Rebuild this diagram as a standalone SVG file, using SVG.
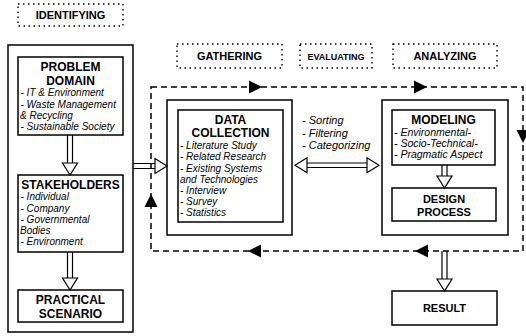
<svg xmlns="http://www.w3.org/2000/svg" xmlns:xlink="http://www.w3.org/1999/xlink" width="526" height="336" viewBox="0 0 526 336">
  <style>
    .box { fill: #fff; stroke: #000; stroke-width: 1.5; }
    .stage { fill: none; stroke: #000; stroke-width: 1.4; stroke-dasharray: 1.5 3.5; }
    .loop { fill: none; stroke: #000; stroke-width: 1.5; stroke-dasharray: 6 4; }
    .shaft { fill: none; stroke: #000; stroke-width: 1.2; }
    .hollow { fill: #fff; stroke: #000; stroke-width: 1.2; stroke-linejoin: miter; }
    .solid { fill: #000; stroke: none; }
    text { font-family: "Liberation Sans", Arial, Helvetica, sans-serif; fill: #000; }
    .head { font-size: 12px; font-weight: bold; text-anchor: middle; }
    .head11 { font-size: 11px; font-weight: bold; text-anchor: middle; }
    .lbl { font-size: 11px; font-weight: bold; text-anchor: middle; }
    .lbl-s { font-size: 9px; font-weight: bold; text-anchor: middle; }
    .item { font-size: 10px; font-style: italic; }
    .item-m { font-size: 10.5px; font-style: italic; }
    .op { font-size: 11px; font-style: italic; }
  </style>
  <defs>
    <!-- filled head, tip at origin, pointing right -->
    <path id="tri" class="solid" d="M0,0 L-13,-6.5 L-13,6.5 Z"/>
    <!-- hollow head, tip at origin, pointing down -->
    <path id="htri" class="hollow" d="M0,0 L-7.5,-12 L7.5,-12 Z"/>
  </defs>

  <rect width="526" height="336" fill="#fff"/>

  <!-- stage labels -->
  <g id="stage-identifying">
    <rect class="stage" x="18" y="4" width="105" height="22"/>
    <text class="lbl" x="70.5" y="19">IDENTIFYING</text>
  </g>
  <g id="stage-gathering">
    <rect class="stage" x="177" y="44" width="105" height="24"/>
    <text class="lbl" x="229.5" y="60">GATHERING</text>
  </g>
  <g id="stage-evaluating">
    <rect class="stage" x="300" y="44" width="72" height="24"/>
    <text class="lbl-s" x="336" y="59.5">EVALUATING</text>
  </g>
  <g id="stage-analyzing">
    <rect class="stage" x="393" y="44" width="104" height="24"/>
    <text class="lbl" x="445" y="60">ANALYZING</text>
  </g>

  <!-- identifying column -->
  <g id="identifying-container">
    <rect class="box" x="8" y="45" width="125" height="287"/>
  </g>
  <g id="problem-domain">
    <rect class="box" x="18" y="57" width="105" height="78"/>
    <text class="head" x="70.5" y="71">PROBLEM</text>
    <text class="head" x="70.5" y="85">DOMAIN</text>
    <text class="item" x="20.5" y="96">- IT &amp; Environment</text>
    <text class="item" x="20.5" y="108">- Waste Management</text>
    <text class="item" x="20" y="119">&amp; Recycling</text>
    <text class="item" x="20.5" y="130">- Sustainable Society</text>
  </g>
  <g id="stakeholders">
    <rect class="box" x="18" y="175" width="105" height="77"/>
    <text class="head" x="70.5" y="189">STAKEHOLDERS</text>
    <text class="item" x="20.5" y="200">- Individual</text>
    <text class="item" x="20.5" y="211.5">- Company</text>
    <text class="item" x="20.5" y="222.5">- Governmental</text>
    <text class="item" x="20" y="233.5">Bodies</text>
    <text class="item" x="20.5" y="245">- Environment</text>
  </g>
  <g id="practical-scenario">
    <rect class="box" x="18" y="290" width="105" height="32"/>
    <text class="head" x="70.5" y="304">PRACTICAL</text>
    <text class="head" x="70.5" y="318">SCENARIO</text>
  </g>

  <!-- gathering -->
  <g id="data-collection">
    <rect class="box" x="167" y="100" width="125" height="135"/>
    <rect class="box" x="178" y="110" width="105" height="112"/>
    <text class="head" x="230.5" y="124">DATA</text>
    <text class="head" x="230.5" y="137">COLLECTION</text>
    <text class="item" x="180" y="149">- Literature Study</text>
    <text class="item" x="180" y="160">- Related Research</text>
    <text class="item" x="180" y="171.5">- Existing Systems</text>
    <text class="item" x="180" y="182.5">and Technologies</text>
    <text class="item" x="180" y="194">- Interview</text>
    <text class="item" x="180" y="205">- Survey</text>
    <text class="item" x="180" y="216">- Statistics</text>
  </g>

  <!-- evaluating -->
  <g id="evaluating-ops">
    <text class="op" x="302" y="124">- Sorting</text>
    <text class="op" x="302" y="136.5">- Filtering</text>
    <text class="op" x="302" y="149">- Categorizing</text>
  </g>

  <!-- analyzing -->
  <g id="analysis">
    <rect class="box" x="382" y="100" width="126" height="135"/>
  </g>
  <g id="modeling">
    <rect class="box" x="392" y="110" width="103" height="55"/>
    <text class="head" x="443.5" y="124">MODELING</text>
    <text class="item-m" x="394" y="135.5">- Environmental-</text>
    <text class="item-m" x="394" y="146.5">- Socio-Technical-</text>
    <text class="item-m" x="394" y="157.5">- Pragmatic Aspect</text>
  </g>
  <g id="design-process">
    <rect class="box" x="392" y="188" width="104" height="33"/>
    <text class="head11" x="444" y="203">DESIGN</text>
    <text class="head11" x="444" y="216">PROCESS</text>
  </g>
  <g id="result">
    <rect class="box" x="392" y="291" width="105" height="34"/>
    <text class="head11" x="444.5" y="312">RESULT</text>
  </g>

  <!-- connectors -->
  <g id="connectors">
    <!-- iteration loop -->
    <path class="loop" d="M151,87 H523 V251 H151 Z"/>
    <use xlink:href="#tri" transform="translate(262,87)"/>
    <use xlink:href="#tri" transform="translate(427,87)"/>
    <use xlink:href="#tri" transform="translate(523,143) rotate(90)"/>
    <use xlink:href="#tri" transform="translate(415,251) rotate(180)"/>
    <use xlink:href="#tri" transform="translate(248,251) rotate(180)"/>
    <use xlink:href="#tri" transform="translate(151,194) rotate(-90)"/>

    <!-- problem domain to stakeholders -->
    <path class="shaft" d="M67.5,135 V163 M72.5,135 V163"/>
    <use xlink:href="#htri" transform="translate(70,175)"/>
    <!-- stakeholders to practical scenario -->
    <path class="shaft" d="M67.5,252 V278 M72.5,252 V278"/>
    <use xlink:href="#htri" transform="translate(70,290)"/>

    <!-- identifying to data collection -->
    <path class="shaft" d="M133,163.5 H155 M133,168.5 H155"/>
    <use xlink:href="#htri" transform="translate(167,166) rotate(-90)"/>

    <!-- data collection to modeling (two-way) -->
    <path class="shaft" d="M307,163 H368 M307,167.5 H368"/>
    <use xlink:href="#htri" transform="translate(379,165.25) rotate(-90)"/>
    <use xlink:href="#htri" transform="translate(295,165.25) rotate(90)"/>

    <!-- modeling to design process -->
    <path class="shaft" d="M442,165 V176 M447,165 V176"/>
    <use xlink:href="#htri" transform="translate(444.5,188)"/>

    <!-- loop exit to result -->
    <path class="shaft" d="M442,251 V279 M447,251 V279"/>
    <use xlink:href="#htri" transform="translate(444.5,291)"/>
  </g>
</svg>
